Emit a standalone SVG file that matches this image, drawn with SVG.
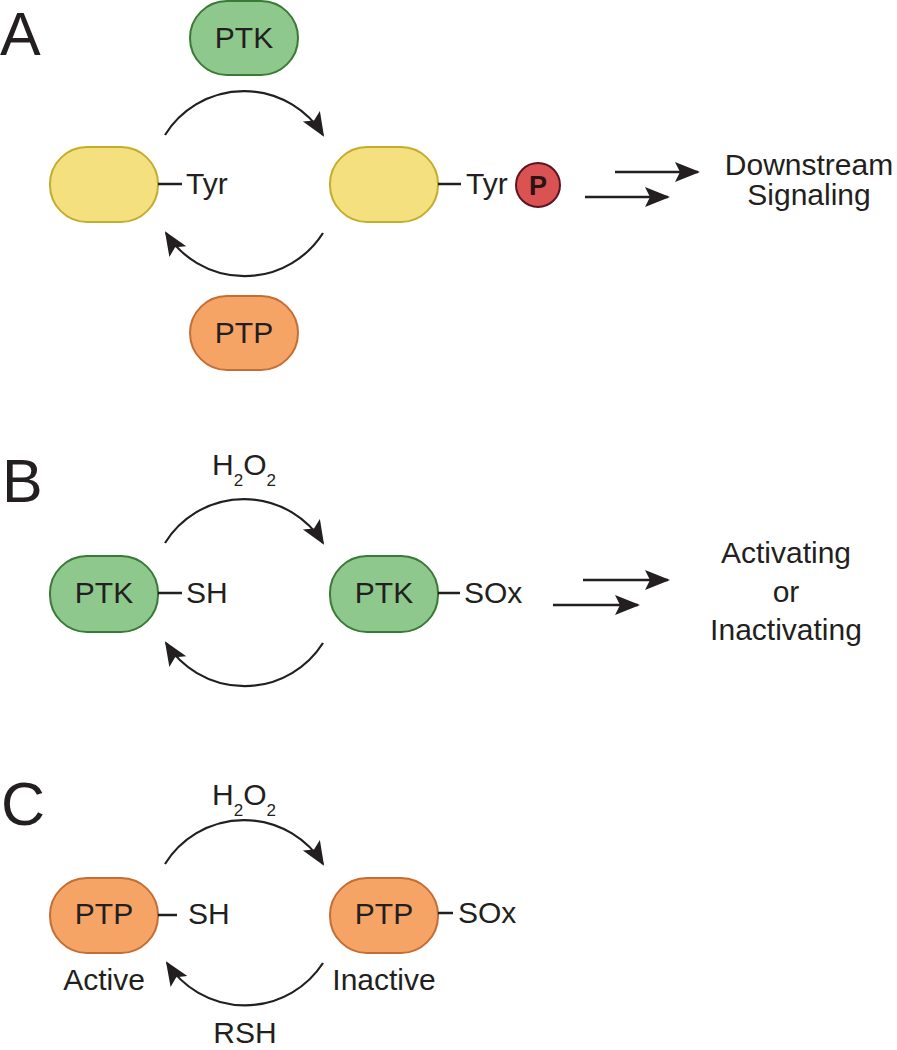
<svg xmlns="http://www.w3.org/2000/svg" width="897" height="1050" viewBox="0 0 897 1050">
<style>
text{font-family:"Liberation Sans",Arial,sans-serif;fill:#231f20;}
.lbl{font-size:61px;}
.t{font-size:30px;}
.c{text-anchor:middle;}
.sub{font-size:17px;}
.yel{fill:#f4e07f;stroke:#c3ad2e;stroke-width:2;}
.grn{fill:#8ec88d;stroke:#3a7a37;stroke-width:2;}
.org{fill:#f6a466;stroke:#c46e35;stroke-width:2;}
.arc{fill:none;stroke:#231f20;stroke-width:2.2;marker-end:url(#ah);}
.st{fill:none;stroke:#231f20;stroke-width:2.5;marker-end:url(#ah2);}
.tick{stroke:#231f20;stroke-width:2.5;}
</style>
<defs>
<marker id="ah" markerUnits="userSpaceOnUse" markerWidth="30" markerHeight="26" refX="22" refY="10" orient="auto" overflow="visible">
<path d="M0,0 L24,10 L0,20 L5,10 z" fill="#231f20"/>
</marker>
<marker id="ah2" markerUnits="userSpaceOnUse" markerWidth="30" markerHeight="26" refX="23" refY="10" orient="auto" overflow="visible">
<path d="M0,0 L25,10 L0,20 L5,10 z" fill="#231f20"/>
</marker>
</defs>

<!-- Panel labels -->
<text class="lbl" x="0" y="55">A</text>
<text class="lbl" x="2" y="502">B</text>
<text class="lbl" x="1" y="825">C</text>

<!-- Panel A -->
<g id="A-PTK"><rect class="grn" x="190" y="1" width="108" height="74" rx="37"/><text class="t c" x="244" y="48">PTK</text></g>
<g id="A-PTP"><rect class="org" x="190" y="296" width="108" height="74" rx="37"/><text class="t c" x="244" y="343">PTP</text></g>
<g id="A-left"><rect class="yel" x="50" y="147" width="108" height="75" rx="37"/><line class="tick" x1="158" y1="184" x2="182" y2="184"/><text class="t" x="186" y="194">Tyr</text></g>
<g id="A-right"><rect class="yel" x="330" y="147" width="108" height="75" rx="37"/><line class="tick" x1="438" y1="184" x2="461" y2="184"/><text class="t" x="466" y="194">Tyr</text>
<circle cx="538" cy="185" r="22" fill="#da5352" stroke="#5c1424" stroke-width="2"/><text x="538" y="195" text-anchor="middle" font-size="27" font-weight="bold" style="fill:#2a1414">P</text></g>
<g id="A-out"><text class="t c" x="809" y="175">Downstream</text><text class="t c" x="809" y="205">Signaling</text></g>

<!-- Panel B -->
<g id="B-h2o2"><text class="t" x="212" y="475">H<tspan class="sub" dy="11">2</tspan><tspan dy="-11">O</tspan><tspan class="sub" dy="11">2</tspan></text></g>
<g id="B-left"><rect class="grn" x="50" y="556" width="108" height="76" rx="37"/><text class="t c" x="104" y="603">PTK</text><line class="tick" x1="158" y1="593" x2="182" y2="593"/><text class="t" x="186" y="603">SH</text></g>
<g id="B-right"><rect class="grn" x="330" y="556" width="108" height="76" rx="37"/><text class="t c" x="384" y="603">PTK</text><line class="tick" x1="438" y1="593" x2="460" y2="593"/><text class="t" x="464" y="603">SOx</text></g>
<g id="B-out"><text class="t c" x="786" y="563">Activating</text><text class="t c" x="786" y="602">or</text><text class="t c" x="786" y="640">Inactivating</text></g>

<!-- Panel C -->
<g id="C-h2o2"><text class="t" x="212" y="805">H<tspan class="sub" dy="11">2</tspan><tspan dy="-11">O</tspan><tspan class="sub" dy="11">2</tspan></text></g>
<g id="C-left"><rect class="org" x="50" y="878" width="108" height="75" rx="37"/><text class="t c" x="104" y="924">PTP</text><line class="tick" x1="158" y1="915" x2="177" y2="915"/><text class="t" x="188" y="924">SH</text><text class="t c" x="104" y="990">Active</text></g>
<g id="C-right"><rect class="org" x="330" y="878" width="108" height="75" rx="37"/><text class="t c" x="384" y="924">PTP</text><line class="tick" x1="438" y1="913" x2="453" y2="913"/><text class="t" x="458" y="923">SOx</text><text class="t c" x="384" y="990">Inactive</text></g>
<g id="C-rsh"><text class="t c" x="245" y="1043">RSH</text></g>

<!-- Connectors -->
<g id="connectors">
<path class="arc" d="M165,135 A93,93 0 0 1 323,135"/>
<path class="arc" d="M323,233 A93,93 0 0 1 166,233"/>
<path class="st" d="M615,172 L698,172"/>
<path class="st" d="M585,197 L668,197"/>
<path class="arc" d="M165,543 A93,93 0 0 1 323,543"/>
<path class="arc" d="M323,643 A93,93 0 0 1 166,643"/>
<path class="st" d="M583,580 L668,580"/>
<path class="st" d="M553,605 L638,605"/>
<path class="arc" d="M165,864 A93,93 0 0 1 323,864"/>
<path class="arc" d="M323,963 A93,93 0 0 1 167,963"/>
</g>
</svg>
